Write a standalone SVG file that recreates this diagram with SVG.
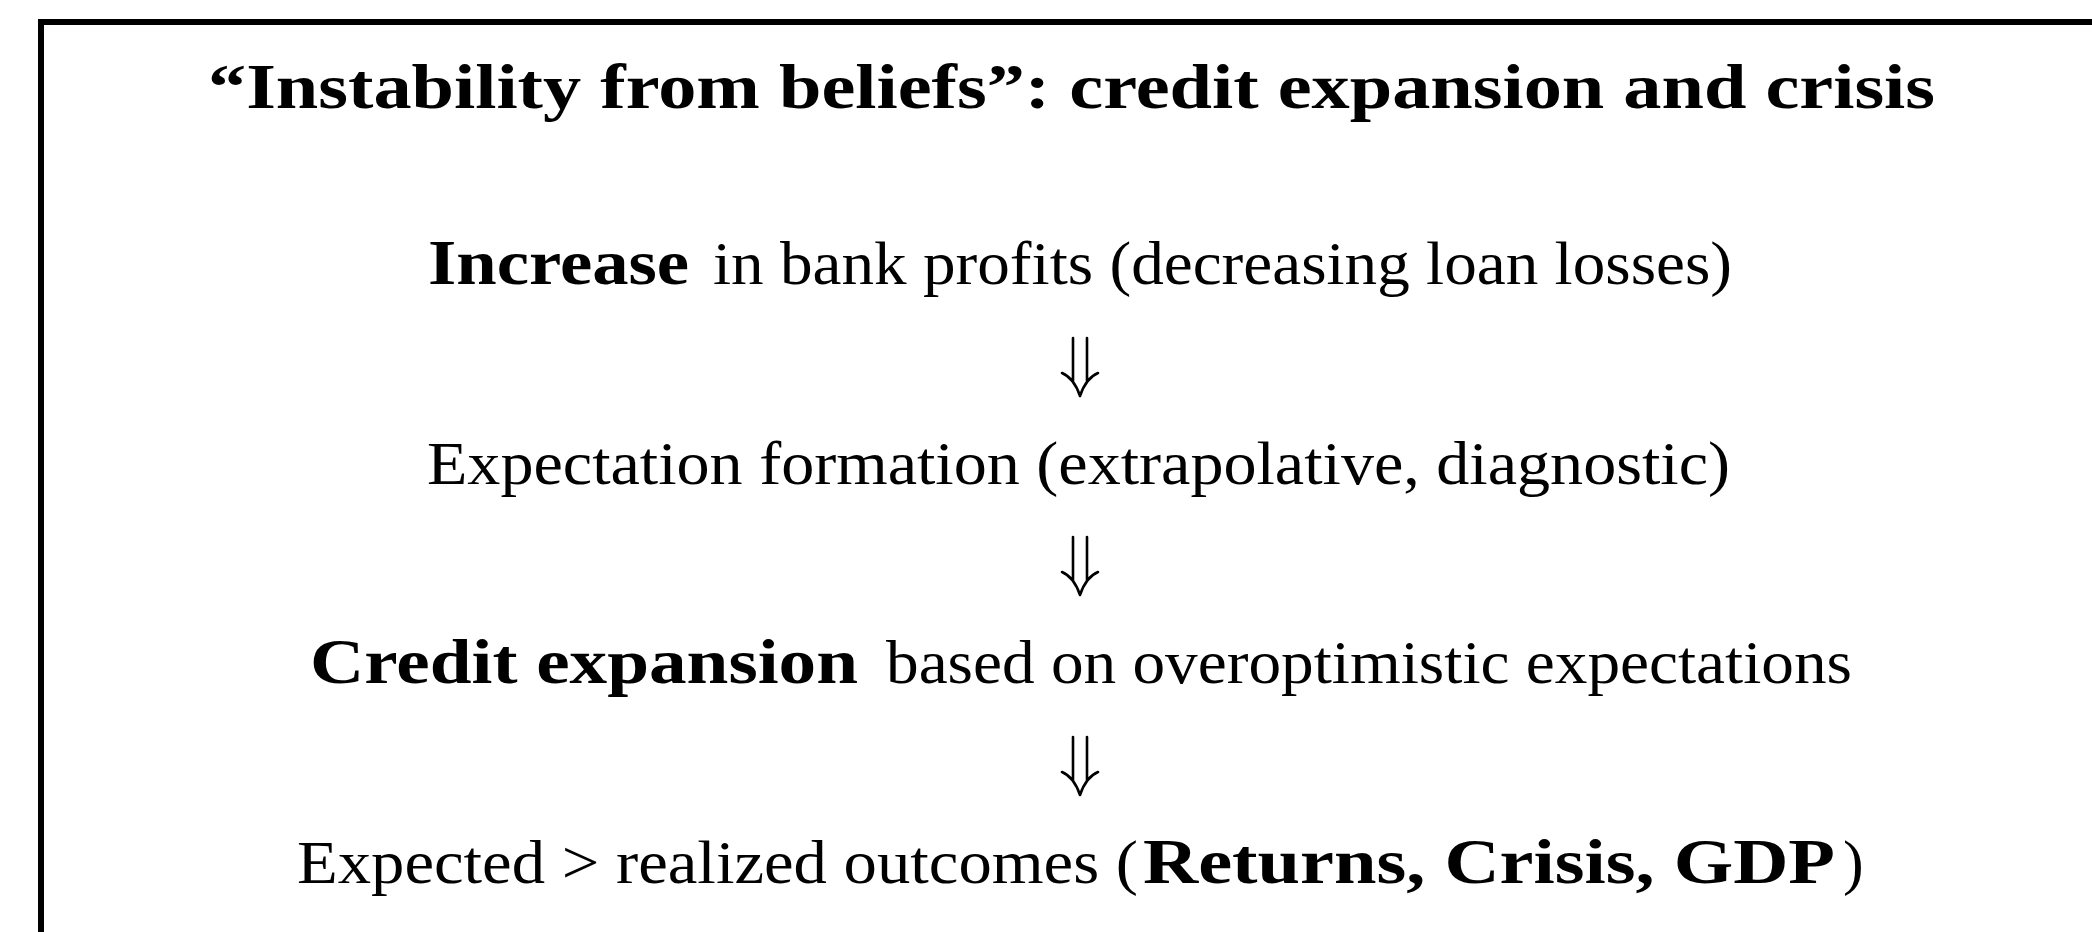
<svg xmlns="http://www.w3.org/2000/svg" xmlns:xlink="http://www.w3.org/1999/xlink" width="2092" height="932" viewBox="0 0 2092 932">
  <style>
    .t { font-family: "Liberation Serif", "DejaVu Serif", serif; fill: #000; }
    .r { font-size: 62px; font-weight: normal; }
    .b { font-size: 64px; font-weight: bold; }
    .frame { stroke: #000; stroke-width: 6; fill: none; }
    .arr { fill: none; stroke: #000; stroke-width: 2.6; stroke-linecap: round; }
  </style>
  <defs>
    <g id="dn">
      <path class="arr" d="M-7,0 V44 M7,0 V44 M-18,35 Q-6,40 0,58 M18,35 Q6,40 0,58"/>
    </g>
  </defs>
  <rect x="0" y="0" width="2092" height="932" fill="#fff"/>
  <g id="frame">
    <path class="frame" d="M41,932 V22 H2092"/>
  </g>
  <g id="title">
    <text class="t b" x="208" y="108" textLength="1727" lengthAdjust="spacingAndGlyphs">“Instability from beliefs”: credit expansion and crisis</text>
  </g>
  <g id="node-profits">
    <text class="t b" x="428" y="284" textLength="261" lengthAdjust="spacingAndGlyphs">Increase</text>
    <text class="t r" x="713" y="284" textLength="1019" lengthAdjust="spacingAndGlyphs">in bank profits (decreasing loan losses)</text>
  </g>
  <g id="node-expectations">
    <text class="t r" x="427" y="484" textLength="1303" lengthAdjust="spacingAndGlyphs">Expectation formation (extrapolative, diagnostic)</text>
  </g>
  <g id="node-credit">
    <text class="t b" x="310" y="683" textLength="548" lengthAdjust="spacingAndGlyphs">Credit expansion</text>
    <text class="t r" x="886" y="683" textLength="966" lengthAdjust="spacingAndGlyphs">based on overoptimistic expectations</text>
  </g>
  <g id="node-outcomes">
    <text class="t r" x="297" y="883" textLength="841" lengthAdjust="spacingAndGlyphs">Expected &gt; realized outcomes (</text>
    <text class="t b" x="1143" y="883" textLength="692" lengthAdjust="spacingAndGlyphs">Returns, Crisis, GDP</text>
    <text class="t r" x="1843" y="883">)</text>
  </g>
  <g id="connectors">
    <use xlink:href="#dn" href="#dn" x="1080" y="338"/>
    <use xlink:href="#dn" href="#dn" x="1080" y="537"/>
    <use xlink:href="#dn" href="#dn" x="1080" y="737"/>
  </g>
</svg>
